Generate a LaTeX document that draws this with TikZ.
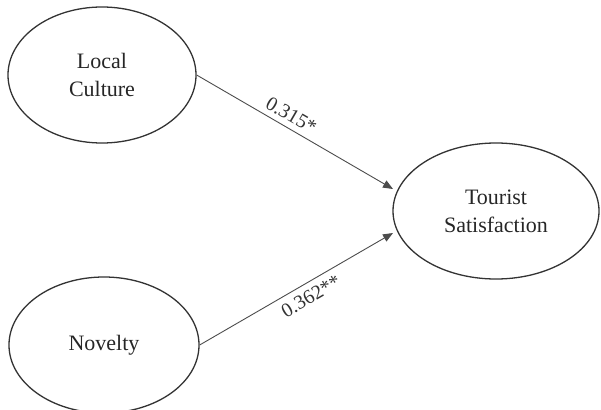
\documentclass[tikz,border=0pt]{standalone}
\usepackage{fontspec}
\setmainfont{Liberation Serif}
\usetikzlibrary{shapes.geometric,arrows.meta}
\begin{document}
\begin{tikzpicture}[x=1pt,y=-1pt,
  latent/.style={ellipse,draw=black!80,line width=1.3pt,inner sep=0pt,align=center,
    font=\rmfamily\fontsize{22}{28}\selectfont,text=black!85},
  path/.style={draw=black!70,line width=0.9pt,-{Triangle[length=10pt,width=8pt]}},
  coef/.style={font=\rmfamily\fontsize{20}{24}\selectfont,text=black!80,sloped}]
\useasboundingbox (0,0) rectangle (601,409);
\node[latent,minimum width=188pt,minimum height=136pt] (lc) at (102,75) {Local\\Culture};
\node[latent,minimum width=190pt,minimum height=136pt] (nov) at (104,345) {Novelty};
\node[latent,minimum width=206pt,minimum height=136pt] (ts) at (496,211) {Tourist\\Satisfaction};
\coordinate (t1) at (393,189);
\coordinate (t2) at (393,233);
\draw[path] (lc.east) -- node[coef,above,pos=0.45,yshift=2pt] {0.315*} (t1);
\draw[path] (nov.east) -- node[coef,below,pos=0.54,yshift=-3pt] {0.362**} (t2);
\end{tikzpicture}
\end{document}
